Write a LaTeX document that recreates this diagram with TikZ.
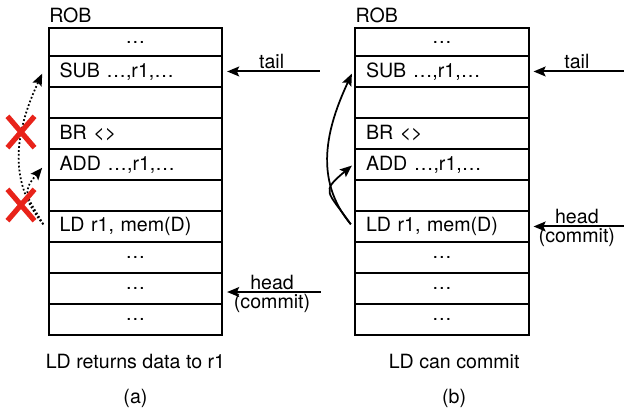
\documentclass[tikz,border=0pt]{standalone}
\usepackage{fontspec}
\setmainfont{TeX Gyre Heros}
\usetikzlibrary{arrows.meta, shapes.misc}
\definecolor{xred}{RGB}{232,35,26}

\begin{document}
\begin{tikzpicture}[x=1cm, y=1cm, >={Stealth[length=11pt, width=9pt, inset=2pt]},
        font=\fontsize{18}{21}\selectfont,
        rob/.style={draw, line width=1.9pt, minimum height=1cm, text width=5.6cm-20pt,
            inner xsep=10pt, inner ysep=0pt, align=left},
        robdots/.style={rob, align=center},
        ptr/.style={->, line width=1.8pt},
        dep/.style={->, line width=1.6pt},
        nope/.style={cross out, draw=xred, line width=4.8pt, minimum width=20pt,
            minimum height=24pt, inner sep=0pt}]
        \useasboundingbox (0,0) rectangle (20.129,13.29);

        % (a) LD returns data
        \node[robdots, minimum height=0.903cm] (a1) at (4.37,11.935) {…};
        \node[rob] (a2) at (4.37,10.984) {SUB …,r1,…};
        \node[rob] (a3) at (4.37,9.984) {};
        \node[rob] (a4) at (4.37,8.984) {BR <>};
        \node[rob] (a5) at (4.37,7.984) {ADD …,r1,…};
        \node[rob] (a6) at (4.37,6.984) {};
        \node[rob] (a7) at (4.37,5.984) {LD r1, mem(D)};
        \node[robdots] (a8) at (4.37,4.984) {…};
        \node[robdots] (a9) at (4.37,3.984) {…};
        \node[robdots] (a10) at (4.37,2.984) {…};
        \node[anchor=south west, xshift=-2pt] (roba) at (a1.north west) {ROB};

        \coordinate (ta) at (10.32,10.984);
        \coordinate (ha) at (10.35,3.87);
        \draw[ptr, shorten >=3.5pt] (ta) -- (a2.east)
            node [midway, above, inner sep=1.5pt] {tail};
        \draw[ptr, shorten >=3.5pt] (ha) -- (ha -| a9.east)
            node [midway, above, inner sep=1.5pt] {head}
            node [midway, below, inner sep=1pt] {(commit)};

        \draw[dep, dotted] ([xshift=-4pt, yshift=2pt]a7.west)
            to[out=130, in=-115] ([xshift=-5pt, yshift=-2pt]a2.west);
        \draw[dep, dotted] ([xshift=-4pt, yshift=2pt]a7.west)
            to[out=120, in=-130, looseness=1.5] ([xshift=-5pt, yshift=-3pt]a5.west);
        \node[nope] (xa1) at (0.677,9.032) {};
        \node[nope] (xa2) at (0.677,6.677) {};

        \node (capa) at (4.37,1.613) {LD returns data to r1};
        \node (laba) at (4.37,0.45) {(a)};

        % (b) LD can commit
        \node[robdots, minimum height=0.903cm] (b1) at (14.255,11.935) {…};
        \node[rob] (b2) at (14.255,10.984) {SUB …,r1,…};
        \node[rob] (b3) at (14.255,9.984) {};
        \node[rob] (b4) at (14.255,8.984) {BR <>};
        \node[rob] (b5) at (14.255,7.984) {ADD …,r1,…};
        \node[rob] (b6) at (14.255,6.984) {};
        \node[rob] (b7) at (14.255,5.984) {LD r1, mem(D)};
        \node[robdots] (b8) at (14.255,4.984) {…};
        \node[robdots] (b9) at (14.255,3.984) {…};
        \node[robdots] (b10) at (14.255,2.984) {…};
        \node[anchor=south west, xshift=-2pt] (robb) at (b1.north west) {ROB};

        \coordinate (tb) at (20.129,10.984);
        \coordinate (hb) at (20.129,5.984);
        \draw[ptr, shorten >=3.5pt] (tb) -- (b2.east)
            node [midway, above, inner sep=1.5pt] {tail};
        \draw[ptr, shorten >=3.5pt] (hb) -- (b7.east)
            node [midway, above, inner sep=1.5pt] {head}
            node [midway, below, inner sep=1pt] {(commit)};

        \draw[dep] ([xshift=-3pt, yshift=2pt]b7.west)
            to[out=130, in=-115] ([xshift=-2pt, yshift=-2pt]b2.west);
        \draw[dep] ([xshift=-3pt, yshift=2pt]b7.west)
            to[out=125, in=-140, looseness=1.8] ([xshift=-2pt, yshift=-1pt]b5.west);

        \node (capb) at (14.65,1.613) {LD can commit};
        \node (labb) at (14.65,0.45) {(b)};
    \end{tikzpicture}
\end{document}
